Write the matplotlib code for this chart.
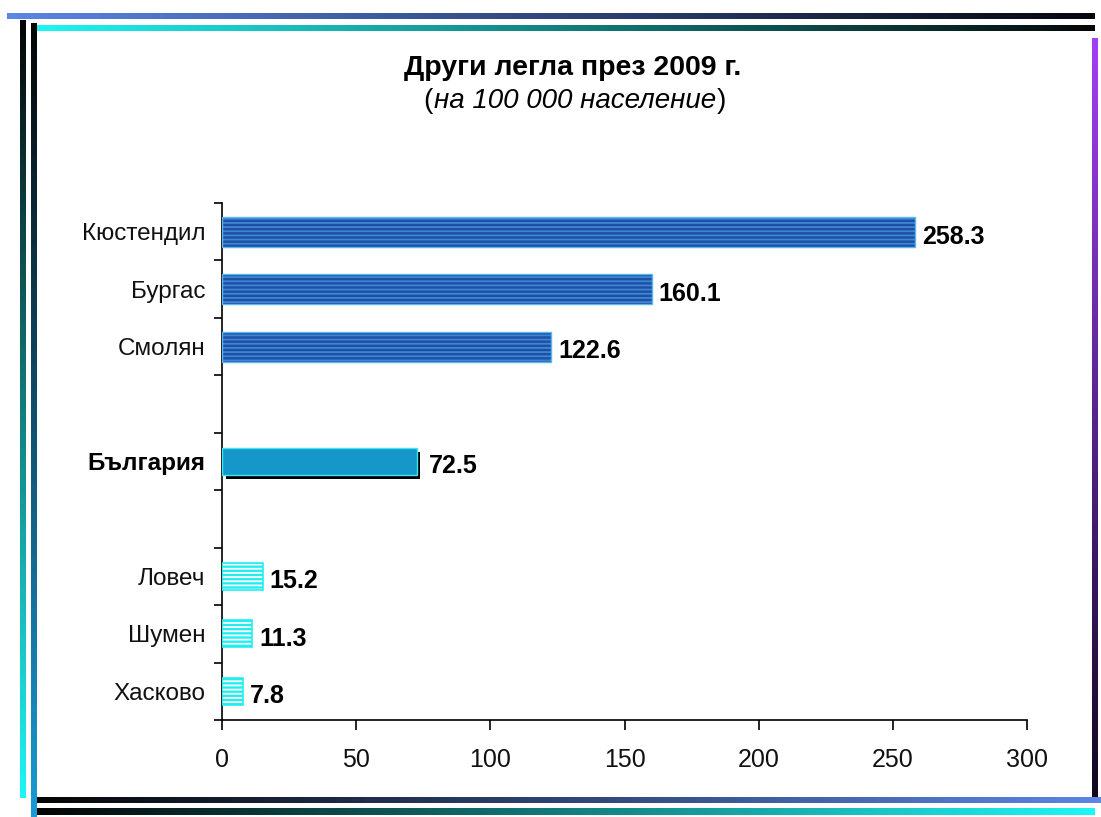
import numpy as np
import matplotlib
matplotlib.use("Agg")
import matplotlib.pyplot as plt
import matplotlib.patheffects as pe
from matplotlib.colors import LinearSegmentedColormap

plt.rcParams['font.family'] = ['Liberation Sans', 'DejaVu Sans']
plt.rcParams['hatch.linewidth'] = 1.3

# ---- data ----
title = "Други легла през 2009 г."
subtitle = "на 100 000 население"
regions = ["Кюстендил", "Бургас", "Смолян", "България", "Ловеч", "Шумен", "Хасково"]
values = [258.3, 160.1, 122.6, 72.5, 15.2, 11.3, 7.8]
groups = ["high", "high", "high", "country", "low", "low", "low"]
xticks = [0, 50, 100, 150, 200, 250, 300]

W, H = 1101, 817
fig = plt.figure(figsize=(W / 100, H / 100), dpi=100)

# ---- decorative frame ----
bg = fig.add_axes([0, 0, 1, 1], zorder=0)
bg.axis("off")


def grad_rect(x0, x1, y0, y1, c0, c1, horizontal=True):
    cmap = LinearSegmentedColormap.from_list("g", [c0, c1])
    g = np.linspace(0, 1, 256)
    img = g[None, :] if horizontal else g[:, None]
    bg.imshow(img, cmap=cmap, extent=(x0, x1, y1, y0), aspect="auto",
              interpolation="bilinear")


grad_rect(7, 1095, 13, 19, "#5b86e6", "#06060f")
grad_rect(33, 1095, 25, 31, "#1ff5f5", "#050808")
grad_rect(20, 26, 20, 798, "#050505", "#1ff5f5", horizontal=False)
grad_rect(31, 37, 23, 817, "#050505", "#1a9ad6", horizontal=False)
grad_rect(1092, 1098, 38, 803, "#a040f5", "#10061e", horizontal=False)
grad_rect(37, 1101, 797, 803, "#050505", "#5b86e6")
grad_rect(37, 1095, 808, 815, "#050505", "#1ff5f5")
bg.set_xlim(0, W)
bg.set_ylim(H, 0)

# ---- title ----
fig.text(0.520, 1 - 68 / H, title, ha="center", va="center",
         fontsize=20.5, fontweight="bold")
t_sub = fig.text(0.522, 1 - 101 / H, subtitle, ha="center", va="center",
                 fontsize=20, style="italic")
fig.canvas.draw()
bb = t_sub.get_window_extent()
fig.text(bb.x0 / W - 0.001, 1 - 101 / H, "(", ha="right", va="center", fontsize=20)
fig.text(bb.x1 / W + 0.001, 1 - 101 / H, ")", ha="left", va="center", fontsize=20)

# ---- chart ----
ax = fig.add_axes([222 / W, 1 - 720 / H, (1027 - 222) / W, (720 - 203) / H], zorder=2)
ax.patch.set_alpha(0)

slot = 0
ypos = []
prev = None
for g in groups:
    if prev is not None and g != prev:
        slot += 1
    ypos.append(slot)
    slot += 1
    prev = g
nslots = slot

for y, v, g in zip(ypos, values, groups):
    if g == "high":
        ax.barh(y, v, height=0.52, color="#1f4fa2", edgecolor="#3c86d6",
                hatch="----", linewidth=0, zorder=3)
        ax.barh(y, v, height=0.52, fill=False, edgecolor="#5ab8ee",
                linewidth=1.0, zorder=4)
    elif g == "low":
        ax.barh(y, v, height=0.47, color="#22eef0", edgecolor="#ffffff",
                hatch="----", linewidth=0, zorder=3)
        ax.barh(y, v, height=0.47, fill=False, edgecolor="#22eef0",
                linewidth=1.2, zorder=4)
    else:
        ax.barh(y, v, height=0.47, color="#1597c9", edgecolor="#3ee6f2",
                linewidth=1.0, zorder=3,
                path_effects=[pe.SimplePatchShadow(offset=(2.8, -2.8),
                                                   shadow_rgbFace="black",
                                                   alpha=1.0),
                              pe.Normal()])
    xoff = 9 if g == "country" else 5
    ax.annotate(f"{v:.1f}", (v, y), xytext=(xoff, -3.5), textcoords="offset points",
                ha="left", va="center", fontsize=18, fontweight="bold", zorder=5)

ax.set_xlim(0, 300)
ax.set_ylim(nslots - 0.5, -0.5)
ax.set_xticks(xticks)
ax.set_xticklabels([str(t) for t in xticks], fontsize=18, color="#111111")
ax.set_yticks(np.arange(-0.5, nslots, 1.0))
ax.set_yticklabels([])
ax.set_yticks(ypos, minor=True)
ax.set_yticklabels(regions, minor=True, fontsize=17.5, color="#111111")
for lab, g in zip(ax.get_yticklabels(minor=True), groups):
    if g == "country":
        lab.set_fontweight("bold")
        lab.set_color("black")
ax.tick_params(axis="y", which="major", direction="out", length=6, width=1.2)
ax.tick_params(axis="y", which="minor", length=0, pad=12)
ax.tick_params(axis="x", direction="out", length=7, width=1.2, pad=13)
for s in ["top", "right"]:
    ax.spines[s].set_visible(False)
for s in ["left", "bottom"]:
    ax.spines[s].set_linewidth(1.2)

fig.savefig("out.png", dpi=100)
